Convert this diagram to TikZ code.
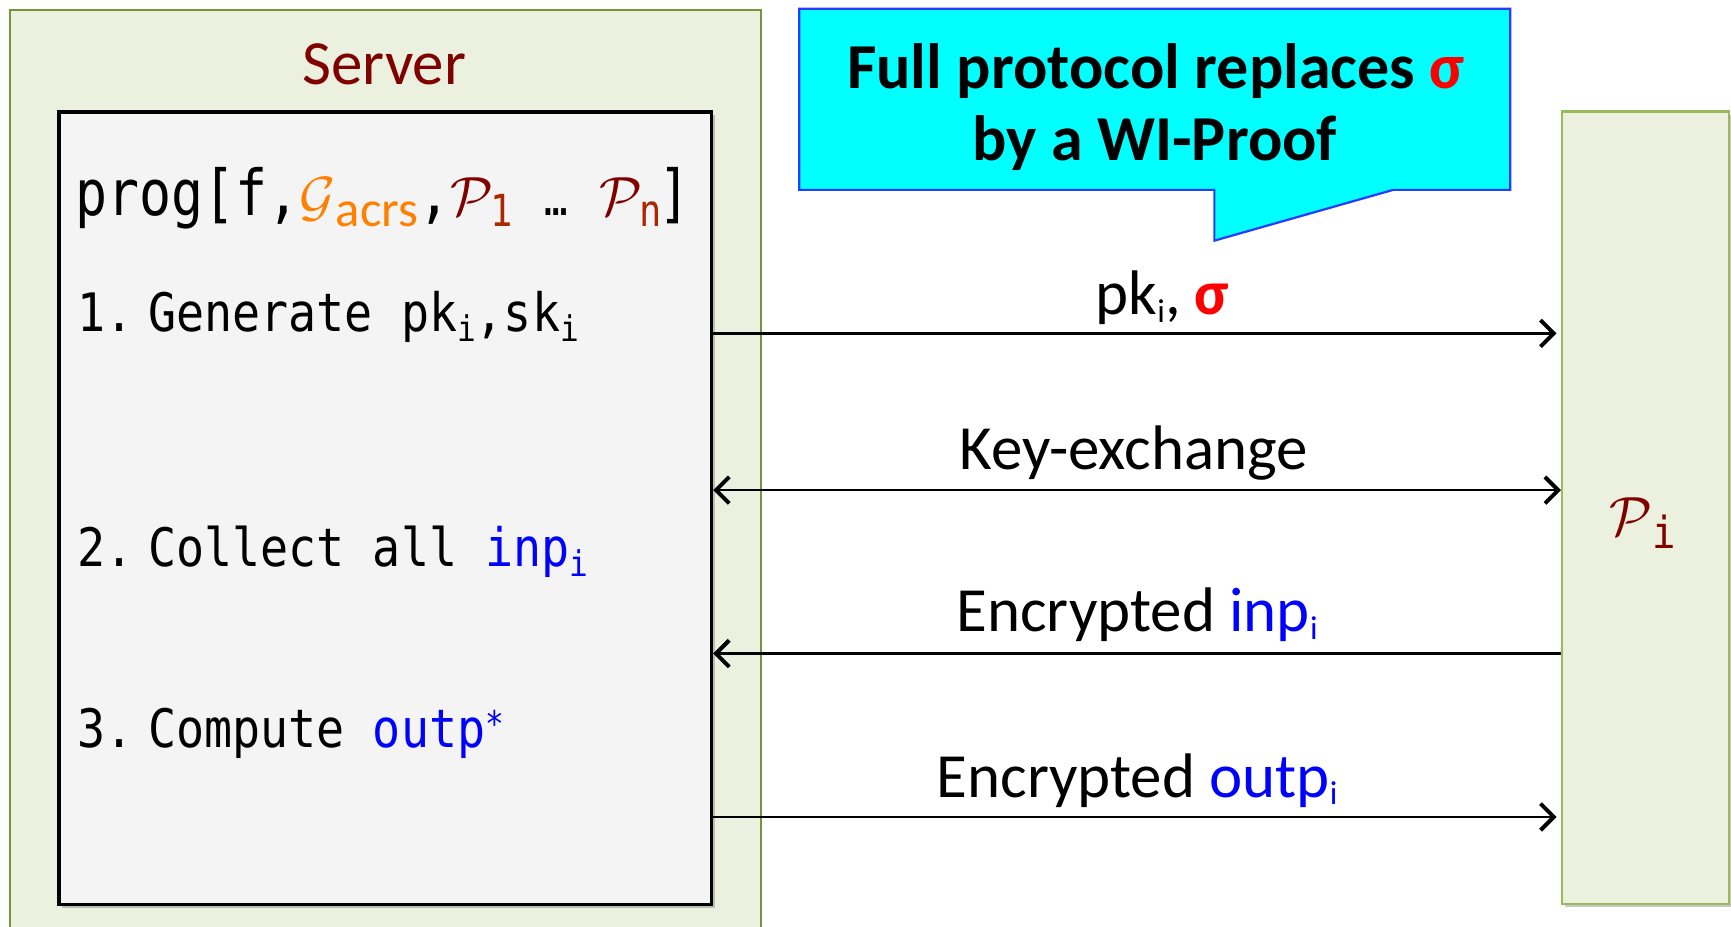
\documentclass[tikz,border=0pt]{standalone}
\usepackage{graphicx}
\usepackage{fontspec}
\setmainfont{Carlito}
\newfontfamily\monofont[FakeStretch=0.88]{DejaVu Sans Mono}
\newfontfamily\progfont[FakeStretch=0.84]{DejaVu Sans Mono}
\usetikzlibrary{arrows.meta,shadows}
\definecolor{srvred}{RGB}{128,0,0}
\definecolor{subred}{RGB}{170,40,0}
\definecolor{gorange}{RGB}{255,128,0}
\definecolor{lblue}{RGB}{0,0,255}
\definecolor{sigred}{RGB}{255,0,0}
\definecolor{boxgreen}{RGB}{235,241,222}
\definecolor{srvborder}{RGB}{119,147,60}
\definecolor{piborder}{RGB}{155,187,89}
\definecolor{innerfill}{RGB}{244,244,244}
\definecolor{calloutfill}{RGB}{0,255,255}
\definecolor{calloutborder}{RGB}{40,60,255}
\newcommand{\lsub}[1]{\raisebox{-4.8pt}{\fontsize{16pt}{16pt}\selectfont #1}}
\newcommand{\psub}[1]{\hspace{-1.5pt}\raisebox{-5pt}{\fontsize{20pt}{20pt}\selectfont #1}}
\newcommand{\gsub}[1]{\raisebox{-5pt}{\rmfamily\fontsize{23pt}{23pt}\selectfont #1}}
\newcommand{\csub}[1]{\raisebox{-3.5pt}{\fontsize{15pt}{15pt}\selectfont #1}}
\newcommand{\bigcal}[1]{\scalebox{2.5}{\fontsize{10pt}{12pt}\selectfont$\mathcal{#1}$}}
\newcommand{\listfont}{\monofont\fontsize{24pt}{28pt}\selectfont}
\tikzset{
  lab/.style={anchor=base, inner sep=0pt, font=\fontsize{28.5pt}{34pt}\selectfont},
  calltext/.style={anchor=base, inner sep=0pt, font=\bfseries\fontsize{29pt}{34pt}\selectfont},
  listline/.style={anchor=base west, inner sep=0pt, font=\listfont},
  barb/.tip={Straight Barb[length=6pt,width=12pt,line width=1.8pt]},
  arr/.style={line width=1.2pt, -barb},
  darr/.style={line width=1.2pt, barb-barb},
  boxshadow/.style={drop shadow={shadow xshift=1.5pt, shadow yshift=-1.5pt, opacity=0.3, fill=black!70}}
}
\begin{document}
\begin{tikzpicture}[x=0.5pt,y=-0.5pt]
\useasboundingbox (0,0) rectangle (1568,839);
\clip (0,0) rectangle (1568,839);
\fill[white] (0,0) rectangle (1568,839);
% server
\node[draw=srvborder, line width=1pt, fill=boxgreen, minimum width=340pt, minimum height=430pt, anchor=north west, inner sep=0pt] (server) at (8,8) {};
\node[lab, text=srvred] (srvtitle) at (348,77) {Server};
\node[draw=black, line width=1.5pt, fill=innerfill, minimum width=295.5pt, minimum height=359pt, anchor=north west, inner sep=0pt, boxshadow] (inner) at (52,100) {};
\node[anchor=base west, inner sep=0pt] (prog) at (68,195) {\progfont\fontsize{28.7pt}{34pt}\selectfont prog[f,{\color{gorange}\bigcal{G}\gsub{acrs}},{\color{srvred}\bigcal{P}}{\color{subred}\psub{1}} {\fontsize{21pt}{21pt}\selectfont …} {\color{srvred}\bigcal{P}}{\color{subred}\psub{n}}\hspace{-1.5pt}]};
\node[listline] (step1) at (70,300) {\makebox[32pt][l]{1.}Generate pk\lsub{i},sk\lsub{i}};
\node[listline] (step2) at (70,513) {\makebox[32pt][l]{2.}Collect all {\color{lblue}inp\lsub{i}}};
\node[listline] (step3) at (70,677) {\makebox[32pt][l]{3.}Compute {\color{lblue}outp\raisebox{5pt}{\fontsize{16pt}{16pt}\selectfont *}}};
% party
\node[draw=piborder, line width=1pt, fill=boxgreen, minimum width=75.5pt, minimum height=359pt, anchor=north west, inner sep=0pt, boxshadow] (pi) at (1414,100) {};
\node[anchor=base, inner sep=0pt, text=srvred] (pilab) at (1488,485) {\bigcal{P}\raisebox{-6pt}{\monofont\fontsize{20pt}{20pt}\selectfont i}};
% callout
\draw[draw=calloutborder, fill=calloutfill, line width=1pt] (724,8) -- (1368,8) -- (1368,172) -- (1262,172) -- (1100,218) -- (1100,172) -- (724,172) -- cycle;
\node[calltext] (call1) at (1047,80) {Full protocol replaces {\color{sigred}σ}};
\node[calltext] (call2) at (1046,145) {by a WI-Proof};
% messages
\node[lab] (m1) at (1053,285) {pk\csub{i}, {\bfseries\color{sigred}σ}};
\draw[arr, shorten >=2pt] (inner.east |- 0,302) -- (pi.west |- 0,302);
\node[lab] (m2) at (1027,425) {Key-exchange};
\draw[darr] (inner.east |- 0,444) -- (pi.west |- 0,444);
\node[lab] (m3) at (1030,572) {Encrypted {\color{lblue}inp\csub{i}}};
\draw[arr] (pi.west |- 0,592) -- (inner.east |- 0,592);
\node[lab] (m4) at (1030,722) {Encrypted {\color{lblue}outp\csub{i}}};
\draw[arr, shorten >=2pt] (inner.east |- 0,740) -- (pi.west |- 0,740);
\end{tikzpicture}
\end{document}
